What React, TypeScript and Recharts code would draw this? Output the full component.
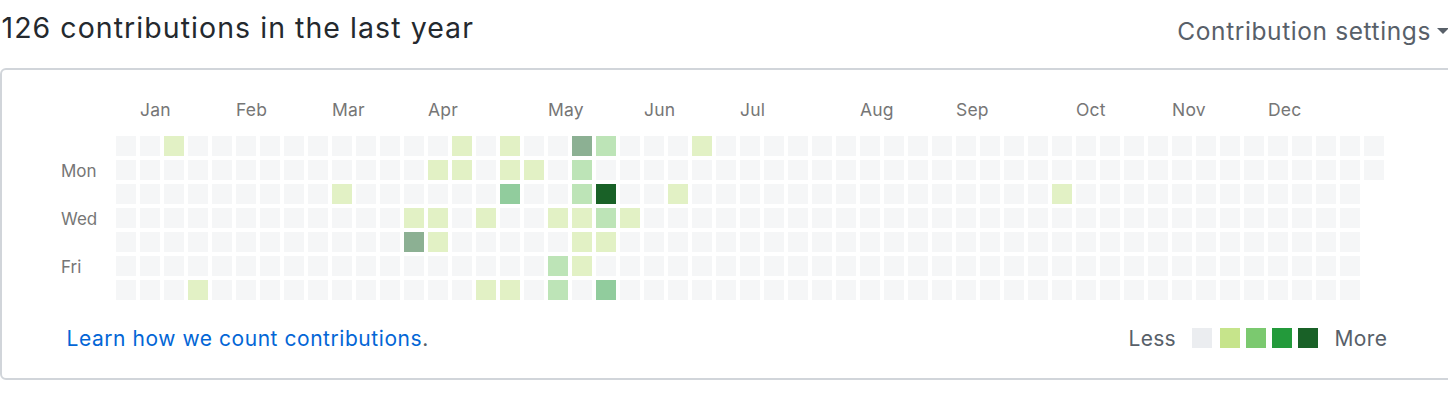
import React from "react";
import { ScatterChart, Scatter, XAxis, YAxis } from "recharts";

// ---- data ----
const totalContributions = 126;
const weekCount = 53;
const lastWeekDays = 2;
const monthLabels = ["Jan", "Feb", "Mar", "Apr", "May", "Jun", "Jul", "Aug", "Sep", "Oct", "Nov", "Dec"];
const monthStartWeeks = [1, 5, 9, 13, 18, 22, 26, 31, 35, 40, 44, 48];
const dayLabels = ["Mon", "Wed", "Fri"];
const dayLabelRows = [1, 3, 5];

// non-empty days: week index, weekday index (0 = Sun), contribution count
const activeWeeks = [2, 3, 9, 12, 12, 13, 13, 13, 14, 14, 15, 15, 16, 16, 16, 16, 17, 18, 18, 18, 19, 19, 19, 19, 19, 19, 20, 20, 20, 20, 20, 21, 23, 24, 39];
const activeDays = [0, 6, 2, 3, 4, 1, 3, 4, 0, 1, 3, 6, 0, 1, 2, 6, 1, 3, 5, 6, 0, 1, 2, 3, 4, 5, 0, 2, 3, 4, 6, 3, 2, 0, 2];
const activeCounts = [1, 1, 1, 1, 15, 1, 2, 1, 1, 2, 2, 1, 1, 2, 6, 1, 1, 1, 4, 4, 18, 4, 4, 2, 2, 1, 4, 24, 4, 2, 7, 1, 1, 2, 1];

const selectedWeek = 20;
const selectedDay = 2;

const levelColors = ["#ebedf0", "#c6e48b", "#7bc96f", "#239a3b", "#196127"];
const levelThresholds = [1, 3, 6, 10];

const levelOf = (count: number) => {
  let lvl = 0;
  levelThresholds.forEach((t, i) => {
    if (count >= t) lvl = i + 1;
  });
  return lvl;
};

type Cell = { week: number; day: number; count: number };
const cells: Cell[] = [];
for (let w = 0; w < weekCount; w++) {
  const days = w === weekCount - 1 ? lastWeekDays : 7;
  for (let d = 0; d < days; d++) {
    let count = 0;
    for (let i = 0; i < activeWeeks.length; i++) {
      if (activeWeeks[i] === w && activeDays[i] === d) count = activeCounts[i];
    }
    cells.push({ week: w, day: d, count });
  }
}

const FONT = "Inter, 'Helvetica Neue', Arial, sans-serif";
const CELL = 20;

const renderCell = (props: any) => {
  const { cx, cy, payload } = props;
  const lvl = levelOf(payload.count);
  const selected = payload.week === selectedWeek && payload.day === selectedDay;
  return (
    <rect
      x={cx - CELL / 2}
      y={cy - CELL / 2}
      width={CELL}
      height={CELL}
      fill={levelColors[lvl]}
      fillOpacity={selected ? 1 : 0.5}
    />
  );
};

const MonthTick = (props: any) => {
  const { x, y, payload } = props;
  const idx = monthStartWeeks.indexOf(payload.value);
  return (
    <text x={x - CELL / 2} y={y - 10} textAnchor="start" fill="#767676" fontSize={17.5} fontFamily={FONT} letterSpacing={0.2}>
      {monthLabels[idx]}
    </text>
  );
};

const DayTick = (props: any) => {
  const { x, y, payload } = props;
  const idx = dayLabelRows.indexOf(payload.value);
  return (
    <text x={x - 45} y={y + 6.5} textAnchor="start" fill="#767676" fontSize={17} fontFamily={FONT}>
      {dayLabels[idx]}
    </text>
  );
};

export default function App() {
  return (
    <div style={{ position: "absolute", left: 0, top: 0, width: 1448, height: 402, overflow: "hidden", background: "#fff" }}>
      <svg width={1448} height={402} style={{ position: "absolute", left: 0, top: 0 }}>
        <text x={1.5} y={37.5} fontSize={28.5} fill="#24292e" fontFamily={FONT} letterSpacing={1.05}>
          {`${totalContributions} contributions in the last year`}
        </text>
        <text x={1431} y={40} fontSize={24.5} fill="#586069" fontFamily={FONT} textAnchor="end" letterSpacing={0.6}>
          Contribution settings
        </text>
        <polygon points="1437,28 1449,28 1443,34" fill="#586069" />
        <rect x={1} y={69} width={1470} height={310} rx={5} fill="none" stroke="#d1d5da" strokeWidth={2} />
        <text x={66.5} y={345.5} fontSize={21} fill="#0366d6" fontFamily={FONT} letterSpacing={0.55}>
          Learn how we count contributions<tspan fill="#586069">.</tspan>
        </text>
        <text x={1128.5} y={346} fontSize={21} fill="#586069" fontFamily={FONT} letterSpacing={0.3}>
          Less
        </text>
        {levelColors.map((c, i) => (
          <rect key={c} x={1192 + i * 26 + (i > 0 ? 2 : 0)} y={328} width={CELL} height={CELL} fill={c} />
        ))}
        <text x={1334.5} y={346} fontSize={21} fill="#586069" fontFamily={FONT} letterSpacing={0.4}>
          More
        </text>
      </svg>
      <div style={{ position: "absolute", left: 0, top: 0 }}>
        <ScatterChart width={1448} height={402} margin={{ top: 104, right: 62, bottom: 100, left: 54 }}>
          <XAxis
            type="number"
            dataKey="week"
            orientation="top"
            domain={[-0.5, weekCount - 0.5]}
            ticks={monthStartWeeks}
            interval={0}
            tick={<MonthTick />}
            axisLine={false}
            tickLine={false}
            height={30}
            allowDataOverflow
          />
          <YAxis
            type="number"
            dataKey="day"
            domain={[-0.5, 6.5]}
            reversed
            ticks={dayLabelRows}
            interval={0}
            tick={<DayTick />}
            axisLine={false}
            tickLine={false}
            width={60}
            allowDataOverflow
          />
          <Scatter data={cells} shape={renderCell} isAnimationActive={false} />
        </ScatterChart>
      </div>
    </div>
  );
}
